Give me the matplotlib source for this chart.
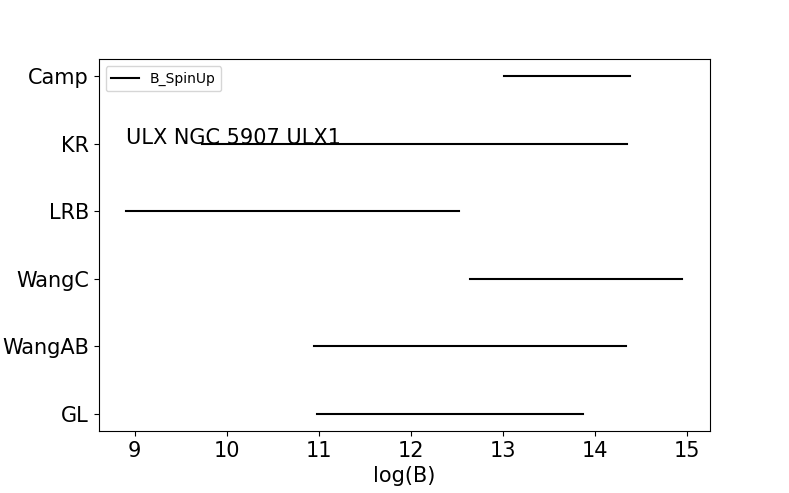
import matplotlib
matplotlib.use("Agg")
import matplotlib.pyplot as plt

# B-field ranges (log B) for each model
models = ['GL', 'WangAB', 'WangC', 'LRB', 'KR', 'Camp']
b_low = [10.98, 10.95, 12.64, 8.91, 9.73, 13.01]
b_high = [13.87, 14.34, 14.95, 12.52, 14.35, 14.38]

fig = plt.figure(figsize=(7.89, 4.93), dpi=100)
ax = fig.add_subplot(111)
fig.subplots_adjust(left=0.125, right=0.9, top=0.88, bottom=0.126)

for i, name in enumerate(models):
    label = 'B_SpinUp' if i == 0 else None
    ax.plot([b_low[i], b_high[i]], [name, name], 'k-', label=label)

ax.text(min(b_low), models.index('KR'), 'ULX NGC 5907 ULX1', fontsize=15)

ax.legend(loc='upper left')
ax.set_xlabel('log(B)', fontsize=15)
ax.tick_params(labelsize=15)

plt.savefig('out.png')
